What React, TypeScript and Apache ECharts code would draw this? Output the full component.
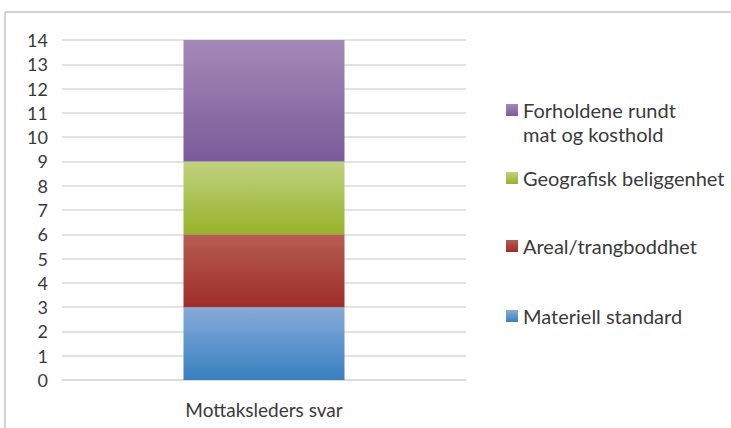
import React, { useEffect, useRef } from "react";
import * as echarts from "echarts";

const categories = ["Mottaksleders svar"];
const seriesNames = [
  "Materiell standard",
  "Areal/trangboddhet",
  "Geografisk beliggenhet",
  "Forholdene rundt mat og kosthold",
];
const legendLabels = [
  "Materiell standard",
  "Areal/trangboddhet",
  "Geografisk beliggenhet",
  "Forholdene rundt\nmat og kosthold",
];
const materiell = [3];
const areal = [3];
const geografisk = [3];
const forholdene = [5];
const yTicks = [0, 14, 1];

const gradients = [
  ["#88abda", "#3780bf"],
  ["#b75d52", "#9e2d29"],
  ["#bfd27f", "#97b22b"],
  ["#a48ab7", "#7a5b99"],
];
const legendTops = [316, 246, 178, 110];
const FONT = "Lato, 'Open Sans', sans-serif";

export default function App() {
  const ref = useRef<HTMLDivElement>(null);
  useEffect(() => {
    if (!ref.current) return;
    const chart = echarts.init(ref.current, undefined, { renderer: "svg" });
    const grad = (c: string[]) =>
      new echarts.graphic.LinearGradient(0, 0, 0, 1, [
        { offset: 0, color: c[0] },
        { offset: 1, color: c[1] },
      ]);
    const values = [materiell, areal, geografisk, forholdene];
    const legendGraphics: any[] = [];
    seriesNames.forEach((_, i) => {
      legendGraphics.push({
        type: "rect",
        left: 506,
        top: legendTops[i] - 6,
        shape: { width: 12, height: 12 },
        style: { fill: grad(gradients[i]) },
      });
      legendGraphics.push({
        type: "text",
        left: 523,
        top: legendTops[i] - 12,
        style: {
          text: legendLabels[i],
          fill: "#3a3a3a",
          font: "20px " + FONT,
          lineHeight: 24,
        },
      });
    });
    chart.setOption({
      animation: false,
      backgroundColor: "#ffffff",
      grid: { left: 62, right: 265, top: 40, bottom: 48, containLabel: false },
      xAxis: {
        type: "category",
        data: categories,
        axisLine: { show: true, lineStyle: { color: "#d9d9d9", width: 1.5 } },
        axisTick: { show: false },
        axisLabel: {
          color: "#3a3a3a",
          fontSize: 19,
          fontFamily: FONT,
          margin: 20,
        },
      },
      yAxis: {
        type: "value",
        min: yTicks[0],
        max: yTicks[1],
        interval: yTicks[2],
        axisLine: { show: false },
        axisTick: { show: false },
        splitLine: { lineStyle: { color: "#d9d9d9", width: 1.5 } },
        axisLabel: {
          color: "#3a3a3a",
          fontSize: 18,
          fontFamily: FONT,
          margin: 14,
        },
      },
      series: seriesNames.map((name, i) => ({
        name,
        type: "bar",
        stack: "total",
        data: values[i],
        barWidth: 161,
        itemStyle: { color: grad(gradients[i]) },
      })),
      graphic: [
        {
          type: "line",
          shape: { x1: 5, y1: 12, x2: 731, y2: 12 },
          style: { stroke: "#a6a6a6", lineWidth: 1 },
        },
        {
          type: "line",
          shape: { x1: 5, y1: 12, x2: 5, y2: 428 },
          style: { stroke: "#a6a6a6", lineWidth: 1 },
        },
        ...legendGraphics,
      ],
    });
    return () => chart.dispose();
  }, []);
  return (
    <div
      ref={ref}
      style={{ width: 731, height: 428, position: "absolute", left: 0, top: 0 }}
    />
  );
}
